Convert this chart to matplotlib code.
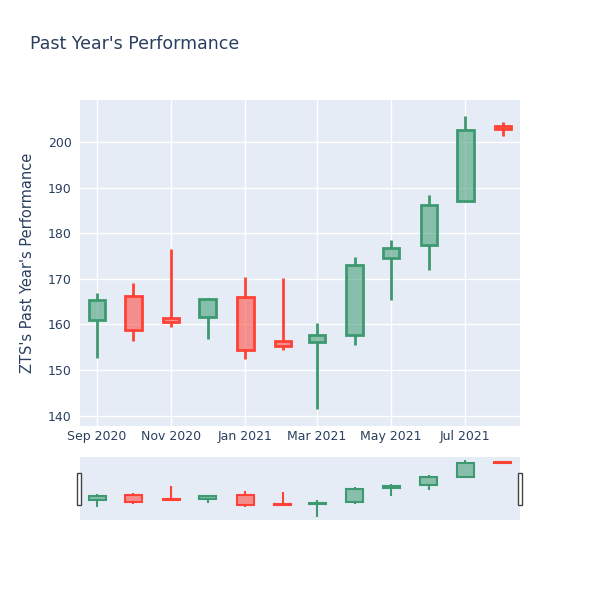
import datetime
import matplotlib
matplotlib.use("Agg")
import matplotlib.pyplot as plt
import matplotlib.dates as mdates
from matplotlib.patches import Rectangle

# monthly candles for ZTS
dates = [datetime.date(2020, m, 1) for m in range(9, 13)] + \
        [datetime.date(2021, m, 1) for m in range(1, 9)]
opens = [160.9, 166.3, 161.4, 161.7, 166.1, 156.3, 156.1, 157.7, 174.7, 177.4, 187.1, 203.5]
highs = [166.9, 169.0, 176.6, 165.8, 170.4, 170.1, 160.4, 174.8, 178.6, 188.5, 205.8, 204.4]
lows = [152.7, 156.4, 159.4, 156.7, 152.5, 154.5, 141.5, 155.5, 165.3, 172.0, 186.8, 201.5]
closes = [165.4, 158.8, 160.6, 165.6, 154.4, 155.3, 157.6, 173.1, 176.7, 186.3, 202.7, 202.9]

tick_dates = [datetime.date(2020, 9, 1), datetime.date(2020, 11, 1), datetime.date(2021, 1, 1),
              datetime.date(2021, 3, 1), datetime.date(2021, 5, 1), datetime.date(2021, 7, 1)]
tick_labels = ['Sep 2020', 'Nov 2020', 'Jan 2021', 'Mar 2021', 'May 2021', 'Jul 2021']

UP = '#3D9970'
DOWN = '#FF4136'
BG = '#E5ECF6'
TXT = '#2a3f5f'


def draw_candles(ax, lw, width):
    x = mdates.date2num(dates)
    for xi, o, h, l, c in zip(x, opens, highs, lows, closes):
        col = UP if c >= o else DOWN
        lo, hi = min(o, c), max(o, c)
        # wicks stop at the box
        ax.vlines(xi, l, lo, color=col, linewidth=lw, zorder=2)
        ax.vlines(xi, hi, h, color=col, linewidth=lw, zorder=2)
        ax.bar(xi, hi - lo, bottom=lo, width=width,
               color=col, alpha=0.55, zorder=3, linewidth=0)
        ax.bar(xi, hi - lo, bottom=lo, width=width,
               facecolor='none', edgecolor=col, linewidth=lw, zorder=4)


fig = plt.figure(figsize=(6, 6), dpi=100)
xlim = (mdates.date2num(datetime.date(2020, 8, 18)), mdates.date2num(datetime.date(2021, 8, 15)))

ax = fig.add_axes([80 / 600, 1 - 426 / 600, 440 / 600, 326 / 600])
ax.set_facecolor(BG)
draw_candles(ax, 2, 13.5)
ax.set_xlim(xlim)
ax.set_ylim(137.7, 209.3)
ax.set_yticks([140, 150, 160, 170, 180, 190, 200])
ax.set_xticks(mdates.date2num(tick_dates))
ax.set_xticklabels(tick_labels)
ax.grid(True, color='white', linewidth=1)
ax.set_axisbelow(True)
for s in ax.spines.values():
    s.set_visible(False)
ax.tick_params(axis='x', length=0, labelsize=9, colors=TXT, pad=3)
ax.tick_params(axis='y', length=0, labelsize=9, colors=TXT, pad=6)
ax.set_ylabel("ZTS's Past Year's Performance", fontsize=10.5, color=TXT, labelpad=9)

fig.text(30 / 600, 1 - 44 / 600, "Past Year's Performance", fontsize=12.5, color=TXT, va='center')

# range slider
rs = fig.add_axes([80 / 600, 1 - 520 / 600, 440 / 600, 63 / 600])
rs.set_facecolor(BG)
draw_candles(rs, 1.5, 14)
rs.set_xlim(xlim)
rs.set_ylim(137.7, 209.6)
rs.set_xticks([])
rs.set_yticks([])
for s in rs.spines.values():
    s.set_visible(False)
for hx in (77, 518):
    fig.patches.append(Rectangle((hx / 600, 1 - 505 / 600), 4 / 600, 32 / 600,
                                 transform=fig.transFigure, facecolor='white',
                                 edgecolor='#444444', linewidth=1))

fig.savefig('out.png', dpi=100)
